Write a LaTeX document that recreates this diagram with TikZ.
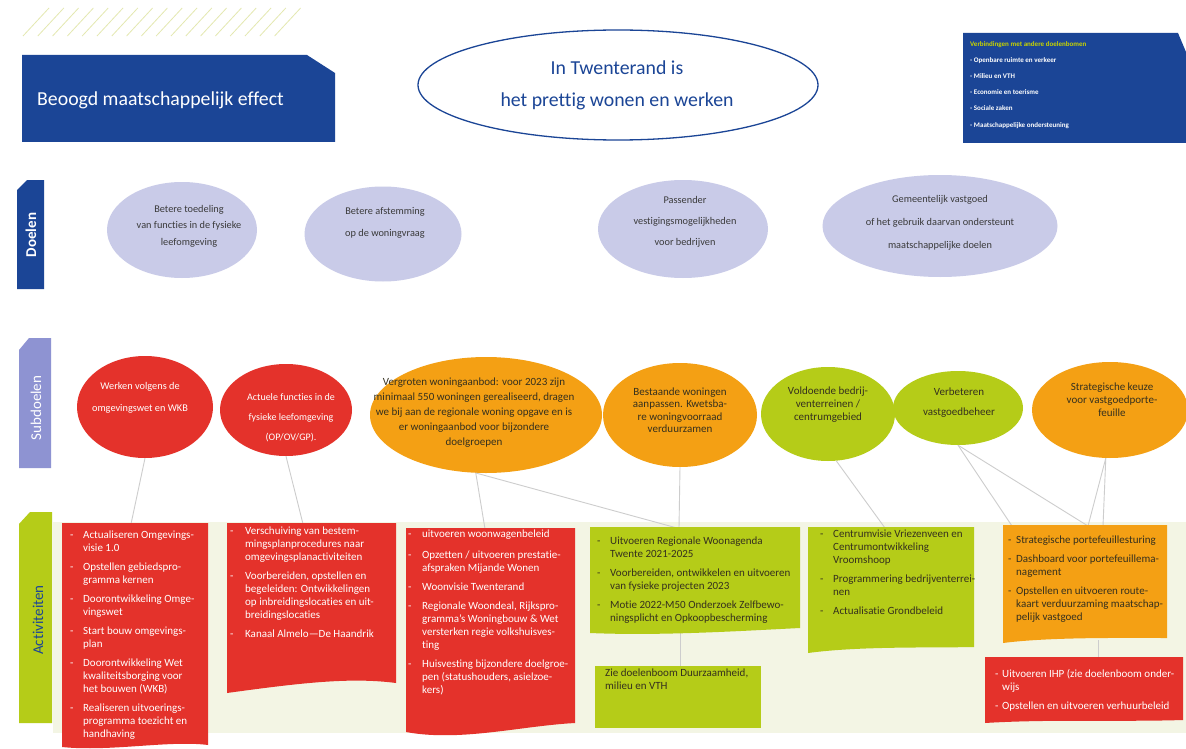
\documentclass[tikz,border=0pt]{standalone}
\usepackage{fontspec}
\setmainfont{Carlito}[Ligatures={NoCommon}]
\usetikzlibrary{shapes.geometric}
\definecolor{bluec}{HTML}{1B4596}
\definecolor{lavc}{HTML}{C9CBE8}
\definecolor{sublab}{HTML}{8E93D2}
\definecolor{redc}{HTML}{E4322B}
\definecolor{orangec}{HTML}{F4A014}
\definecolor{greenc}{HTML}{B5CC18}
\definecolor{palec}{HTML}{F3F5E4}
\definecolor{hatchc}{HTML}{E4E8B0}
\definecolor{connc}{HTML}{CDCDCD}
\definecolor{ygtext}{HTML}{C8D400}
\definecolor{darktext}{HTML}{35301E}
\definecolor{graytext}{HTML}{3A3A3A}
\newlength\dw
\newcommand\D{\makebox[\dw][l]{-}}
\newcommand\N{\hspace*{\dw}}
\begin{document}
\begin{tikzpicture}[x=1pt,y=-1pt,
  ell/.style={ellipse, inner sep=0pt, draw=none},
  conn/.style={draw=connc, line width=0.9pt},
  hatchline/.style={draw=hatchc, line width=0.8pt},
  dtxt/.style={align=center, text=graytext, inner sep=0pt, font=\fontsize{10.3}{#1}\selectfont},
  stxt/.style={align=center, inner sep=0pt, font=\fontsize{11}{#1}\selectfont},
  act/.style={anchor=north west, inner sep=0pt, align=left, font=\fontsize{11}{13}\selectfont},
  dw/.code={\setlength\dw{#1}},
  lab/.style={rotate=90, inner sep=0pt, font=\fontsize{15}{18}\selectfont}
]
\useasboundingbox (0,0) rectangle (1186,749);
\fill[white] (0,0) rectangle (1186,749);

% hatch
\foreach \i in {0,...,17} \draw[hatchline] (23+\i*14.8,36) -- ++(26,-28);

% title box
\fill[bluec] (22,55) -- (307,55) -- (335,73) -- (335,142) -- (22,142) -- cycle;
\node[anchor=west, text=white, inner sep=0pt, font=\fontsize{19.8}{22}\selectfont] (title) at (37,100) {Beoogd maatschappelijk effect};

% central ellipse
\node[ellipse, draw=bluec, line width=1.3pt, fill=white, minimum width=400pt, minimum height=110pt, inner sep=0pt] (goal) at (618,85) {};
\node[align=center, text=bluec, inner sep=0pt, font=\fontsize{19.8}{32}\selectfont] (goalt) at (617,85) {In Twenterand is\\het prettig wonen en werken};

% top right box
\fill[bluec] (963,33) -- (1178,33) -- (1186,52) -- (1186,143) -- (963,143) -- cycle;
\node[anchor=north west, align=left, text=white, inner sep=0pt, font=\fontsize{7}{16.2}\selectfont\bfseries] (links) at (970,41)
 {{\color{ygtext}Verbindingen met andere doelenbomen}\\- Openbare ruimte en verkeer\\- Milieu en VTH\\- Economie en toerisme\\- Sociale zaken\\- Maatschappelijke ondersteuning};

% side labels
\fill[bluec] (17,190) -- (27,180) -- (44,180) -- (44,289) -- (17,289) -- cycle;
\node[lab, text=white, font=\fontsize{15}{18}\selectfont\bfseries] (ldoel) at (31,235) {Doelen};
\fill[sublab] (19,350) -- (29,338) -- (51,338) -- (51,468) -- (19,468) -- cycle;
\node[lab, text=white] (lsub) at (36,408) {Subdoelen};
\fill[palec] (53,522) rectangle (1186,733);
\fill[greenc] (19,524) -- (30,512) -- (52,512) -- (52,723) -- (19,723) -- cycle;
\node[lab, text=bluec] (lact) at (38,620) {Activiteiten};

% doelen ellipses
\node[ell, fill=lavc, minimum width=150pt, minimum height=96pt] (d1) at (182,230) {};
\node[dtxt=16.5] (d1t) at (189,226) {Betere toedeling\\van functies in de fysieke\\leefomgeving};
\node[ell, fill=lavc, minimum width=157pt, minimum height=95pt] (d2) at (383,234) {};
\node[dtxt=22] (d2t) at (385,223) {Betere afstemming\\op de woningvraag};
\node[ell, fill=lavc, minimum width=170pt, minimum height=98pt] (d3) at (683,229) {};
\node[dtxt=21] (d3t) at (685,222) {Passender\\vestigingsmogelijkheden\\voor bedrijven};
\node[ell, fill=lavc, minimum width=235pt, minimum height=102pt] (d4) at (940,226) {};
\node[dtxt=23] (d4t) at (940,223) {Gemeentelijk vastgoed\\of het gebruik daarvan ondersteunt\\maatschappelijke doelen};

% connector end points
\coordinate (t1) at (131,524);
\coordinate (t2) at (303,524);
\coordinate (t3a) at (485,529);
\coordinate (t3b) at (677,528);
\coordinate (t4) at (679,528);
\coordinate (t5) at (885,528);
\coordinate (t6a) at (1012,526);
\coordinate (t6b) at (1088,526);
\coordinate (t7b) at (1103,526);
\coordinate (b7s) at (1098,640);
\coordinate (b8n) at (1098,658);
\coordinate (b4s) at (680,630);
\coordinate (b5n) at (680,666);

% subdoelen ellipses
\node[ell, fill=redc, minimum width=136pt, minimum height=102pt] (s1) at (145,407) {};
\node[ell, fill=redc, minimum width=132pt, minimum height=92pt] (s2) at (286,410) {};
\node[ell, fill=orangec, minimum width=232pt, minimum height=116pt] (s3) at (486,415) {};
\node[ell, fill=orangec, minimum width=154pt, minimum height=104pt] (s4) at (680,415) {};
\node[ell, fill=greenc, minimum width=134pt, minimum height=94pt] (s5) at (828,414) {};
\node[ell, fill=greenc, minimum width=130pt, minimum height=74pt] (s6) at (958,408) {};
\node[ell, fill=orangec, minimum width=156pt, minimum height=96pt] (s7) at (1110,410) {};

% connectors
\draw[conn] (s1.south) -- (t1);
\draw[conn] (s2.south) -- (t2);
\draw[conn] (s3.260) -- (t3a);
\draw[conn] (s3.260) -- (t3b);
\draw[conn] (s4.south) -- (t4);
\draw[conn] (s5.280) -- (t5);
\draw[conn] (s6.south) -- (t6a);
\draw[conn] (s6.south) -- (t6b);
\draw[conn] (s7.265) -- (t6b);
\draw[conn] (s7.265) -- (t7b);
\draw[conn] (b7s) -- (b8n);
\draw[conn] (b4s) -- (b5n);

% subdoelen texts
\node[stxt=22, text=white, font=\fontsize{10.3}{22}\selectfont] (s1t) at (140,398) {Werken volgens de\\omgevingswet en WKB};
\node[stxt=20, text=white, font=\fontsize{10}{20}\selectfont] (s2t) at (291,418) {Actuele functies in de\\fysieke leefomgeving\\(OP/OV/GP).};
\node[stxt=15, text=darktext] (s3t) at (474,413) {Vergroten woningaanbod: voor 2023 zijn\\minimaal 550 woningen gerealiseerd, dragen\\we bij aan de regionale woning opgave en is\\er woningaanbod voor bijzondere\\doelgroepen};
\node[stxt=12.5, text=darktext] (s4t) at (680,410) {Bestaande woningen\\aanpassen. Kwetsba-\\re woningvoorraad\\verduurzamen};
\node[stxt=13, text=darktext] (s5t) at (828,405) {Voldoende bedrij-\\venterreinen /\\centrumgebied};
\node[stxt=20, text=darktext] (s6t) at (959,403) {Verbeteren\\vastgoedbeheer};
\node[stxt=13, text=darktext] (s7t) at (1112,400) {Strategische keuze\\voor vastgoedporte-\\feuille};

% activity boxes
\fill[redc] (62,523) -- (208,523) -- (208,745) .. controls (170,740) and (110,752) .. (62,747) -- cycle;
\fill[redc] (227,523) -- (396,523) -- (396,683) .. controls (350,677) and (300,683) .. (227,693) -- cycle;
\fill[redc] (406,528) -- (575,528) -- (575,723) .. controls (520,726) and (460,742) .. (406,732) -- cycle;
\fill[greenc] (590,527) -- (800,527) -- (800,628) .. controls (740,631) and (660,636) .. (590,633) -- cycle;
\fill[greenc] (595,666) rectangle (761,728);
\fill[greenc] (808,527) -- (974,527) -- (974,647) .. controls (930,648) and (860,646) .. (808,653) -- cycle;
\fill[orangec] (1003,525) -- (1167,525) -- (1167,638) .. controls (1120,638) and (1050,637) .. (1003,643) -- cycle;
\fill[redc] (985,657) -- (1183,657) -- (1183,720) .. controls (1120,722) and (1050,719) .. (985,723) -- cycle;

% activity texts
\node[act, dw=13pt, text=white] (a1) at (70,531) {\D Actualiseren Omgevings-\\\N visie 1.0\\[6pt]\D Opstellen gebiedspro-\\\N gramma kernen\\[6pt]\D Doorontwikkeling Omge-\\\N vingswet\\[6pt]\D Start bouw omgevings-\\\N plan\\[6pt]\D Doorontwikkeling Wet\\\N kwaliteitsborging voor\\\N het bouwen (WKB)\\[6pt]\D Realiseren uitvoerings-\\\N programma toezicht en\\\N handhaving};
\node[act, dw=15pt, text=white] (a2) at (230,527) {\D Verschuiving van bestem-\\\N mingsplanprocedures naar\\\N omgevingsplanactiviteiten\\[6pt]\D Voorbereiden, opstellen en\\\N begeleiden: Ontwikkelingen\\\N op inbreidingslocaties en uit-\\\N breidingslocaties\\[6pt]\D Kanaal Almelo—De Haandrik};
\node[act, dw=14pt, text=white] (a3) at (408,530) {\D uitvoeren woonwagenbeleid\\[8pt]\D Opzetten / uitvoeren prestatie-\\\N afspraken Mijande Wonen\\[6pt]\D Woonvisie Twenterand\\[6pt]\D Regionale Woondeal, Rijkspro-\\\N gramma’s Woningbouw \& Wet\\\N versterken regie volkshuisves-\\\N ting\\[6pt]\D Huisvesting bijzondere doelgroe-\\\N pen (statushouders, asielzoe-\\\N kers)};
\node[act, dw=13pt, text=darktext] (a4) at (597,537) {\D Uitvoeren Regionale Woonagenda\\\N Twente 2021-2025\\[6pt]\D Voorbereiden, ontwikkelen en uitvoeren\\\N van fysieke projecten 2023\\[6pt]\D Motie 2022-M50 Onderzoek Zelfbewo-\\\N ningsplicht en Opkoopbescherming};
\node[act, text=darktext] (a5) at (605,669) {Zie doelenboom Duurzaamheid,\\milieu en VTH};
\node[act, dw=13pt, text=darktext] (a6) at (820,530) {\D Centrumvisie Vriezenveen en\\\N Centrumontwikkeling\\\N Vroomshoop\\[6pt]\D Programmering bedrijventerrei-\\\N nen\\[6pt]\D Actualisatie Grondbeleid};
\node[act, dw=8pt, text=darktext] (a7) at (1008,536) {\D Strategische portefeuillesturing\\[6pt]\D Dashboard voor portefeuillema-\\\N nagement\\[6pt]\D Opstellen en uitvoeren route-\\\N kaart verduurzaming maatschap-\\\N pelijk vastgoed};
\node[act, dw=7pt, text=white] (a8) at (995,669) {\D Uitvoeren IHP (zie doelenboom onder-\\\N wijs\\[6pt]\D Opstellen en uitvoeren verhuurbeleid};
\end{tikzpicture}
\end{document}
